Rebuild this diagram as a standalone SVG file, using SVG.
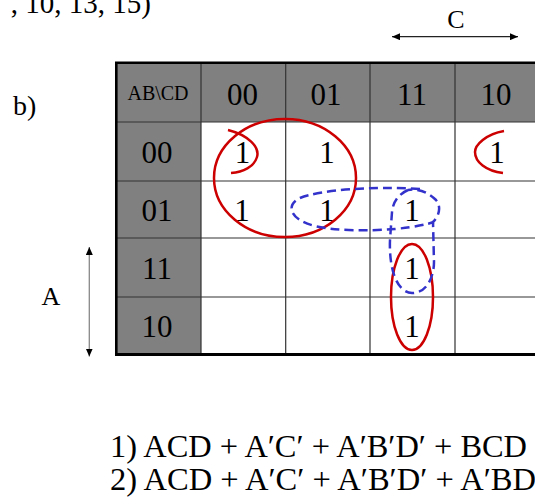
<svg xmlns="http://www.w3.org/2000/svg" width="535" height="497" viewBox="0 0 535 497">
<style>
text{font-family:"Liberation Serif","Times New Roman",serif;fill:#000}
.big{font-size:31px;text-anchor:middle}
.hd{font-size:20px;text-anchor:middle}
.lbl{font-size:26px}
.fm{font-size:32px}
.grid{stroke:#333;stroke-width:1.2;fill:none}
.red{stroke:#cc0000;stroke-width:2.5;fill:none}
.blue{stroke:#3333cc;stroke-width:2.5;fill:none;stroke-dasharray:9 5}
</style>
<defs>
<marker id="ah" viewBox="0 0 8 7" refX="8" refY="3.5" markerWidth="8" markerHeight="7" markerUnits="userSpaceOnUse" orient="auto-start-reverse">
<path d="M0,0 L8,3.5 L0,7 z" fill="#000"/>
</marker>
</defs>
<rect width="535" height="497" fill="#fff"/>
<text x="151" y="13" style="font-size:29px;text-anchor:end">, 10, 13, 15)</text>
<text x="13" y="115" style="font-size:28px">b)</text>
<g id="table">
<rect x="116" y="62.5" width="424" height="59.5" fill="#808080"/>
<rect x="116" y="122" width="85" height="232" fill="#808080"/>
<path class="grid" d="M201,62.5V354 M285.7,62.5V354 M370,62.5V354 M455,62.5V354 M116,122H540 M116,181H540 M116,238H540 M116,297H540"/>
<path d="M116.3,354.5V62.8H541" fill="none" stroke="#000" stroke-width="2.6"/>
<path d="M115,354.5H541" fill="none" stroke="#000" stroke-width="3"/>
</g>
<g id="headers">
<text class="hd" x="158" y="100">AB\CD</text>
<text class="big" x="242.5" y="105">00</text>
<text class="big" x="326" y="105">01</text>
<text class="big" x="412" y="105">11</text>
<text class="big" x="496" y="105">10</text>
<text class="big" x="157" y="163">00</text>
<text class="big" x="157" y="221">01</text>
<text class="big" x="157" y="279">11</text>
<text class="big" x="157" y="337">10</text>
</g>
<g id="cells">
<text class="big" x="242.5" y="163">1</text>
<text class="big" x="327" y="163">1</text>
<text class="big" x="497" y="163">1</text>
<text class="big" x="242" y="221">1</text>
<text class="big" x="327" y="221">1</text>
<text class="big" x="412" y="221">1</text>
<text class="big" x="412" y="279">1</text>
<text class="big" x="412" y="337">1</text>
</g>
<g id="loops">
<ellipse class="red" cx="285" cy="178" rx="71" ry="59"/>
<path class="red" d="M228,130 C248,135 260,147 257,157 C254,167 243,172 231,173"/>
<path class="red" d="M504,131 C486,134 475,145 475,152 C475,162 486,171 503,173"/>
<ellipse class="red" cx="412" cy="297" rx="21" ry="53"/>
<path class="blue" d="M420,189 C370,186 320,190 300,198 C285,205 290,220 315,226 C335,231 370,231 395,229 C415,227 428,224 434,222"/>
<path class="blue" d="M408,190 C397,195 393,203 392,212 L390,240 C389,265 395,292 412,293 C428,293 434,275 434,262 L433,222 C440,215 441,206 436,200 C430,194 420,188 408,190"/>
</g>
<g id="connectors">
<line x1="392" y1="36.7" x2="518" y2="36.7" stroke="#222" stroke-width="1.2" marker-start="url(#ah)" marker-end="url(#ah)"/>
<line x1="89.3" y1="247" x2="89.3" y2="356.5" stroke="#888" stroke-width="1.3" marker-start="url(#ah)" marker-end="url(#ah)"/>
</g>
<text class="lbl" x="456" y="28" text-anchor="middle">C</text>
<text class="lbl" x="51" y="305" text-anchor="middle">A</text>
<g id="formulas">
<text class="fm" x="110" y="457" textLength="417" lengthAdjust="spacingAndGlyphs">1) ACD + A′C′ + A′B′D′ + BCD</text>
<text class="fm" x="110" y="490" textLength="426" lengthAdjust="spacingAndGlyphs">2) ACD + A′C′ + A′B′D′ + A′BD</text>
</g>
</svg>
